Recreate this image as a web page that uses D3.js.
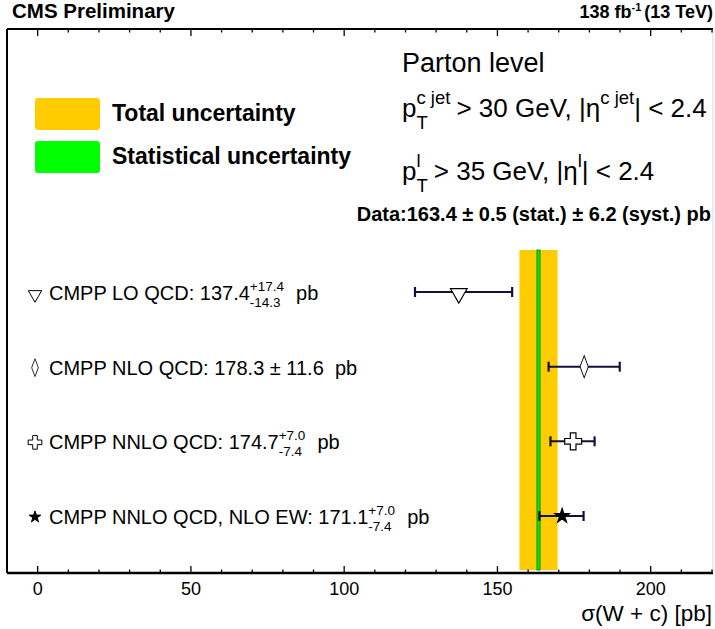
<!DOCTYPE html>
<html>
<head>
<meta charset="utf-8">
<script src="https://cdn.jsdelivr.net/npm/d3@7"></script>
<style>
  body { margin: 0; background: #fff; }
  text { font-family: "Liberation Sans", Arial, sans-serif; }
</style>
</head>
<body>
<div id="chart"></div>
<script>
// predictions
var models = ["CMPP LO QCD", "CMPP NLO QCD", "CMPP NNLO QCD", "CMPP NNLO QCD, NLO EW"];
var central = [137.4, 178.3, 174.7, 171.1];
var errUp = [17.4, 11.6, 7.0, 7.0];
var errDown = [14.3, 11.6, 7.4, 7.4];
var markers = ["triangle", "diamond", "cross", "star"];

// measurement
var dataValue = 163.4;
var statErr = 0.5;
var systErr = 6.2;

var majorTicks = [0, 50, 100, 150, 200];
var minorTicks = d3.range(-10, 221, 10);

var W = 715, H = 629;
var frame = { left: 7, right: 713, top: 29, bottom: 573 };

var svg = d3.select("#chart").append("svg")
    .attr("width", W)
    .attr("height", H);

var x = d3.scaleLinear().domain([-10, 220]).range([frame.left, 712]);
var y = d3.scalePoint().domain(models).range([292, 516]);

// draw text made of pieces (normal, superscript, subscript, stacked sup/sub)
function rich(parent, x0, y0, parts, anchor) {
    var g = parent.append("g");
    var cx = 0;
    parts.forEach(function (p) {
        if (p.sup !== undefined) {
            var a = g.append("text").attr("x", cx).attr("y", p.supDy || -9)
                .style("font-size", p.fs + "px").text(p.sup);
            var w = a.node().getComputedTextLength();
            if (p.sub !== undefined) {
                var b = g.append("text").attr("x", cx).attr("y", p.subDy || 5)
                    .style("font-size", p.fs + "px").text(p.sub);
                w = Math.max(w, b.node().getComputedTextLength());
            }
            cx += w + (p.gap || 0);
        } else {
            var t = g.append("text").attr("x", cx).attr("y", 0)
                .style("font-size", p.fs + "px")
                .style("font-weight", p.bold ? "bold" : null)
                .style("white-space", "pre")
                .text(p.t);
            cx += t.node().getComputedTextLength() + (p.gap || 0);
        }
    });
    var dx = anchor === "end" ? -cx : 0;
    g.attr("transform", "translate(" + (x0 + dx) + "," + y0 + ")");
    return g;
}

// total and stat bands
var totErr = Math.sqrt(statErr * statErr + systErr * systErr);
svg.append("rect")
    .attr("x", x(dataValue - totErr))
    .attr("width", x(dataValue + totErr) - x(dataValue - totErr))
    .attr("y", 250)
    .attr("height", 320)
    .style("fill", "#ffcc00");
svg.append("rect")
    .attr("x", x(dataValue - statErr))
    .attr("width", x(dataValue + statErr) - x(dataValue - statErr))
    .attr("y", 250)
    .attr("height", 320)
    .style("fill", "#00ee00")
    .style("stroke", "#008800")
    .style("stroke-width", 0.9);

// frame
svg.append("line").attr("x1", frame.left).attr("x2", frame.right)
    .attr("y1", frame.top).attr("y2", frame.top)
    .style("stroke", "#000").style("stroke-width", 2);
svg.append("line").attr("x1", frame.left).attr("x2", frame.right)
    .attr("y1", frame.bottom).attr("y2", frame.bottom)
    .style("stroke", "#000").style("stroke-width", 2.5);
svg.append("line").attr("x1", frame.left).attr("x2", frame.left)
    .attr("y1", frame.top).attr("y2", frame.bottom)
    .style("stroke", "#000").style("stroke-width", 2);
svg.append("line").attr("x1", frame.right).attr("x2", frame.right)
    .attr("y1", frame.top).attr("y2", frame.bottom)
    .style("stroke", "#d8d8d8").style("stroke-width", 1);

// ticks on bottom and top
minorTicks.forEach(function (v) {
    if (x(v) < frame.left + 2 || x(v) > frame.right - 1) return;
    var len = majorTicks.indexOf(v) >= 0 ? 7 : 3.5;
    svg.append("line").attr("x1", x(v)).attr("x2", x(v))
        .attr("y1", frame.bottom).attr("y2", frame.bottom - len)
        .style("stroke", "#000").style("stroke-width", 1.3);
    svg.append("line").attr("x1", x(v)).attr("x2", x(v))
        .attr("y1", frame.top).attr("y2", frame.top + len)
        .style("stroke", "#000").style("stroke-width", 1.3);
});
svg.selectAll(".ticklab")
    .data(majorTicks)
    .enter()
    .append("text")
    .attr("x", function (d) { return x(d); })
    .attr("y", 595)
    .attr("text-anchor", "middle")
    .style("font-size", "18px")
    .text(function (d) { return d; });

svg.append("text")
    .attr("x", 712)
    .attr("y", 621)
    .attr("text-anchor", "end")
    .style("font-size", "22.5px")
    .text("σ(W + c) [pb]");

// header
svg.append("text").attr("x", 12).attr("y", 18)
    .style("font-size", "20.5px").style("font-weight", "bold")
    .text("CMS Preliminary");
var hdr = rich(svg, 713, 18, [
    { t: "138 fb", fs: 18, bold: true },
    { sup: "-1", fs: 11, supDy: -7, gap: 3 },
    { t: "(13 TeV)", fs: 18, bold: true }
], "end");
hdr.selectAll("text").style("font-weight", "bold");

// legend
var legend = [
    { label: "Total uncertainty", color: "#ffcc00", y: 98 },
    { label: "Statistical uncertainty", color: "#00ff00", y: 141 }
];
legend.forEach(function (l) {
    svg.append("rect").attr("x", 35).attr("y", l.y)
        .attr("width", 65).attr("height", 32).attr("rx", 3)
        .style("fill", l.color);
    svg.append("text").attr("x", 112).attr("y", l.y + 23)
        .style("font-size", "23px").style("font-weight", "bold")
        .text(l.label);
});

// selection text
svg.append("text").attr("x", 402).attr("y", 72)
    .style("font-size", "27px").text("Parton level");
rich(svg, 402, 117, [
    { t: "p", fs: 26 },
    { sup: "c jet", sub: "T", fs: 18.5, supDy: -13, subDy: 12, gap: 6 },
    { t: "> 30 GeV, |η", fs: 26 },
    { sup: "c jet", fs: 18.5, supDy: -13 },
    { t: "| < 2.4", fs: 26 }
]);
rich(svg, 402, 180, [
    { t: "p", fs: 26 },
    { sup: "l", sub: "T", fs: 18.5, supDy: -13, subDy: 12, gap: 6 },
    { t: "> 35 GeV, |η", fs: 26 },
    { sup: "l", fs: 18.5, supDy: -13 },
    { t: "| < 2.4", fs: 26 }
]);
rich(svg, 711, 221, [
    { t: "Data:" + dataValue.toFixed(1) + " ± " + statErr.toFixed(1) + " (stat.) ± " +
         systErr.toFixed(1) + " (syst.) pb", fs: 20, bold: true }
], "end");

// marker shapes
function markerPath(kind, s) {
    if (kind === "triangle") return d3.symbol(d3.symbolTriangle, s * 6)();
    if (kind === "diamond") return d3.symbol(d3.symbolDiamond, s * 7)();
    if (kind === "cross") return d3.symbol(d3.symbolCross, s * 8)();
    return d3.symbol(d3.symbolStar, s * 3.2)();
}
function markerTransform(kind, cx, cy) {
    if (kind === "triangle") return "translate(" + cx + "," + (cy + 1.5) + ") rotate(180)";
    if (kind === "diamond") return "translate(" + cx + "," + cy + ") scale(0.65,1)";
    return "translate(" + cx + "," + cy + ")";
}
function markerFill(kind) { return kind === "star" ? "#000" : "#fff"; }

// error bars
var rows = svg.selectAll(".row")
    .data(models)
    .enter()
    .append("g")
    .attr("class", "row");

rows.append("line")
    .attr("x1", function (d, i) { return x(central[i] - errDown[i]); })
    .attr("x2", function (d, i) { return x(central[i] + errUp[i]); })
    .attr("y1", function (d) { return y(d); })
    .attr("y2", function (d) { return y(d); })
    .style("stroke", "#10103a")
    .style("stroke-width", 2);
rows.append("line")
    .attr("x1", function (d, i) { return x(central[i] - errDown[i]); })
    .attr("x2", function (d, i) { return x(central[i] - errDown[i]); })
    .attr("y1", function (d) { return y(d) - 5; })
    .attr("y2", function (d) { return y(d) + 5; })
    .style("stroke", "#10103a")
    .style("stroke-width", 2.2);
rows.append("line")
    .attr("x1", function (d, i) { return x(central[i] + errUp[i]); })
    .attr("x2", function (d, i) { return x(central[i] + errUp[i]); })
    .attr("y1", function (d) { return y(d) - 5; })
    .attr("y2", function (d) { return y(d) + 5; })
    .style("stroke", "#10103a")
    .style("stroke-width", 2.2);
rows.append("path")
    .attr("d", function (d, i) { return markerPath(markers[i], 20); })
    .attr("transform", function (d, i) { return markerTransform(markers[i], x(central[i]), y(d)); })
    .style("fill", function (d, i) { return markerFill(markers[i]); })
    .style("stroke", "#000")
    .style("stroke-width", 1.2);

// row labels
models.forEach(function (m, i) {
    var yy = y(m);
    svg.append("path")
        .attr("d", markerPath(markers[i], 13))
        .attr("transform", markerTransform(markers[i], 35, yy + 1))
        .style("fill", markerFill(markers[i]))
        .style("stroke", "#000")
        .style("stroke-width", 1);
    var parts = [{ t: m + ": " + central[i].toFixed(1), fs: 20 }];
    if (errUp[i] === errDown[i]) {
        parts.push({ t: " ± " + errUp[i].toFixed(1) + "  pb", fs: 20 });
    } else {
        parts.push({ sup: "+" + errUp[i].toFixed(1), sub: "-" + errDown[i].toFixed(1),
                     fs: 13.5, supDy: -9, subDy: 7, gap: 1 });
        parts.push({ t: "  pb", fs: 20 });
    }
    rich(svg, 49, yy + 8, parts);
});
</script>
</body>
</html>
